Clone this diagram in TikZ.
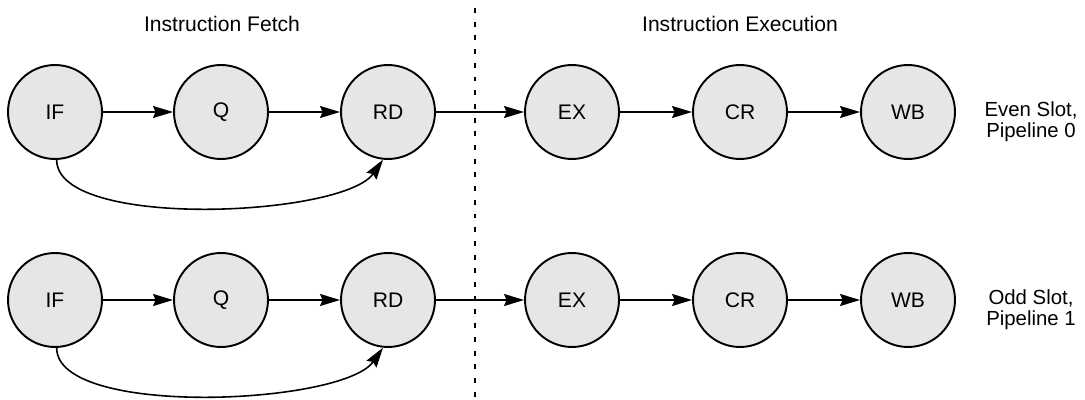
\documentclass[tikz,border=0pt]{standalone}
\usepackage{fontspec}
\setmainfont{Liberation Sans}
\usepackage{xcolor}
\usepackage{tikz}
\usetikzlibrary{positioning,arrows.meta}
\definecolor{stagegray}{RGB}{230,230,230}

\begin{document}
\begin{tikzpicture}[x=0.02cm, y=0.02cm, font=\fontsize{12}{14.4}\selectfont,
  stage/.style={draw, circle, fill=stagegray, line width=1.1pt, minimum size=1.88cm, inner sep=0pt},
  flow/.style={-{Stealth[length=0.4cm,width=0.24cm,inset=0.05cm]}, line width=0.9pt},
  slotlabel/.style={align=center, font=\fontsize{11.6}{12}\selectfont}]
\useasboundingbox (0,0) rectangle (1085,399);

% titles
\node (fetch) at (222,375) {Instruction Fetch};
\node (exec) at (740,375) {Instruction Execution};

% divider
\coordinate (divtop) at (475,391);
\coordinate (divbot) at (475,0);
\draw[line width=1.1pt, dash pattern=on 2.8pt off 5pt] (divtop) -- (divbot);

% pipeline 0
\node[stage] (if0) at (55,287) {IF};
\node[stage] (q0) at (221,287) {Q};
\node[stage] (rd0) at (388,287) {RD};
\node[stage] (ex0) at (572,287) {EX};
\node[stage] (cr0) at (740,287) {CR};
\node[stage] (wb0) at (908,287) {WB};
\node[slotlabel] (slot0) at (1031,277) {Even Slot,\\Pipeline 0};

\draw[flow] (if0) -- (q0);
\draw[flow] (q0) -- (rd0);
\draw[flow] (rd0) -- (ex0);
\draw[flow] (ex0) -- (cr0);
\draw[flow] (cr0) -- (wb0);
\draw[flow] (if0.-88) to[out=-90, in=-125, looseness=0.55] (rd0.-96);

% pipeline 1
\node[stage] (if1) at (55,99) {IF};
\node[stage] (q1) at (221,99) {Q};
\node[stage] (rd1) at (388,99) {RD};
\node[stage] (ex1) at (572,99) {EX};
\node[stage] (cr1) at (740,99) {CR};
\node[stage] (wb1) at (908,99) {WB};
\node[slotlabel] (slot1) at (1031,89) {Odd Slot,\\Pipeline 1};

\draw[flow] (if1) -- (q1);
\draw[flow] (q1) -- (rd1);
\draw[flow] (rd1) -- (ex1);
\draw[flow] (ex1) -- (cr1);
\draw[flow] (cr1) -- (wb1);
\draw[flow] (if1.-88) to[out=-90, in=-125, looseness=0.55] (rd1.-96);
\end{tikzpicture}
\end{document}
